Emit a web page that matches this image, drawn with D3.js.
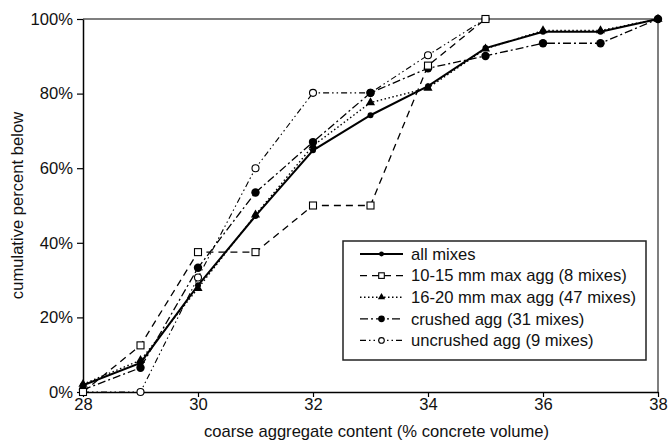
<!DOCTYPE html>
<meta charset="utf-8">
<script src="https://d3js.org/d3.v7.min.js"></script>
<style>
  body { margin: 0; background: #fff; }
  text { font-family: "Liberation Sans", Arial, sans-serif; fill: #111; }
</style>
<div id="my_dataviz"></div>
<script>

// data
var content = [28, 29, 30, 31, 32, 33, 34, 35, 36, 37, 38];
var allMixes   = [1.8, 7.8, 28.6, 47.2, 64.8, 74.2, 82.0, 92.2, 96.6, 96.6, 100];
var agg1015    = [0, 12.5, 37.5, 37.5, 50, 50, 87.5, 100];
var agg1620    = [2.1, 8.5, 27.8, 47.5, 66.0, 77.6, 81.5, 92.0, 96.9, 96.9, 100];
var crushed    = [0.6, 6.5, 33.3, 53.5, 67.0, 80.2, 86.8, 90.1, 93.5, 93.5, 100];
var uncrushed  = [0, 0, 30.7, 60.0, 80.2, 80.2, 90.3, 100];
var seriesNames = ["all mixes", "10-15 mm max agg (8 mixes)", "16-20 mm max agg (47 mixes)",
                   "crushed agg (31 mixes)", "uncrushed agg (9 mixes)"];
var xTicks = [28, 30, 32, 34, 36, 38];
var yTicks = [0, 20, 40, 60, 80, 100];

var series = [
  {name: seriesNames[0], values: allMixes,  dash: null,              width: 2,   marker: "dot"},
  {name: seriesNames[1], values: agg1015,   dash: "7,5",             width: 1.3, marker: "square"},
  {name: seriesNames[2], values: agg1620,   dash: "1.5,2.5",         width: 1.4, marker: "triangle"},
  {name: seriesNames[3], values: crushed,   dash: "8,3,2,3",         width: 1.3, marker: "circle"},
  {name: seriesNames[4], values: uncrushed, dash: "6,3,1.5,3,1.5,3", width: 1.1, marker: "open"}
];

var W = 670, H = 443;
var fs = 16.6;
var margin = {top: 19, right: 12, bottom: 51, left: 83},
    width = 658 - margin.left,
    height = 392 - margin.top;

var svg = d3.select("#my_dataviz")
  .append("svg")
    .attr("width", W)
    .attr("height", H)
  .append("g")
    .attr("transform", "translate(" + margin.left + "," + margin.top + ")");

var x = d3.scaleLinear().domain([28, 38]).range([0, width]);
var y = d3.scaleLinear().domain([0, 100]).range([height, 0]);

// frame top & right
svg.append("line").attr("x1", 0).attr("x2", width).attr("y1", 0).attr("y2", 0)
  .attr("stroke", "#555").attr("stroke-width", 1.5);
svg.append("line").attr("x1", width).attr("x2", width).attr("y1", 0).attr("y2", height)
  .attr("stroke", "#555").attr("stroke-width", 1.5);

// axes
var gx = svg.append("g")
  .attr("transform", "translate(0," + height + ")")
  .call(d3.axisBottom(x).tickValues(xTicks).tickSize(5).tickPadding(1).tickSizeOuter(0));
var gy = svg.append("g")
  .call(d3.axisLeft(y).tickValues(yTicks).tickSize(6).tickPadding(4).tickSizeOuter(0)
    .tickFormat(function(d) { return d + "%"; }));
[gx, gy].forEach(function(g) {
  g.select(".domain").attr("stroke", "#000").attr("stroke-width", 1.5);
  g.selectAll(".tick line").attr("stroke", "#000").attr("stroke-width", 1.2);
  g.selectAll("text").attr("font-size", fs).attr("fill", "#111")
    .attr("font-family", "Liberation Sans, Arial, sans-serif");
});

// axis titles
svg.append("text")
  .attr("x", width / 2 + 6).attr("y", 437 - margin.top)
  .attr("text-anchor", "middle").attr("font-size", fs)
  .text("coarse aggregate content (% concrete volume)");
svg.append("text")
  .attr("transform", "translate(" + (23 - margin.left) + "," + (height / 2) + ")rotate(-90)")
  .attr("text-anchor", "middle").attr("font-size", fs)
  .text("cumulative percent below");

function drawMarker(g, type, cx, cy, k) {
  k = k || 1;
  if (type === "dot") {
    g.append("circle").attr("cx", cx).attr("cy", cy).attr("r", 3 * k).attr("fill", "#000");
  } else if (type === "square") {
    g.append("rect").attr("x", cx - 3.5 * k).attr("y", cy - 3.5 * k).attr("width", 7 * k).attr("height", 7 * k)
      .attr("fill", "#fff").attr("stroke", "#000").attr("stroke-width", 1.1);
  } else if (type === "triangle") {
    g.append("path").attr("transform", "translate(" + cx + "," + cy + ")")
      .attr("d", d3.symbol().type(d3.symbolTriangle).size(36 * k * k)).attr("fill", "#000");
  } else if (type === "circle") {
    g.append("circle").attr("cx", cx).attr("cy", cy).attr("r", 4.2 * k).attr("fill", "#000");
  } else {
    g.append("circle").attr("cx", cx).attr("cy", cy).attr("r", 3.5 * k)
      .attr("fill", "#fff").attr("stroke", "#000").attr("stroke-width", 1.1);
  }
}

var line = d3.line()
  .x(function(d, i) { return x(content[i]); })
  .y(function(d) { return y(d); });

// draw back-to-front so all mixes is on top
series.slice().reverse().forEach(function(s) {
  var g = svg.append("g");
  g.append("path")
    .attr("d", line(s.values))
    .attr("fill", "none")
    .attr("stroke", "#000")
    .attr("stroke-width", s.width)
    .attr("stroke-dasharray", s.dash);
  s.values.forEach(function(v, i) { drawMarker(g, s.marker, x(content[i]), y(v)); });
});

// legend
var lg = svg.append("g").attr("transform", "translate(" + (343 - margin.left) + "," + (241 - margin.top) + ")");
lg.append("rect").attr("width", 303).attr("height", 119)
  .attr("fill", "#fff").attr("stroke", "#222").attr("stroke-width", 1.5);
series.forEach(function(s, i) {
  var ly = 13 + i * 21.6;
  lg.append("line").attr("x1", 17).attr("x2", 60).attr("y1", ly).attr("y2", ly)
    .attr("stroke", "#000").attr("stroke-width", s.width).attr("stroke-dasharray", s.dash);
  drawMarker(lg, s.marker, 38.5, ly, 0.8);
  lg.append("text").attr("x", 68).attr("y", ly + 5.7).attr("font-size", fs).text(s.name);
});

</script>
